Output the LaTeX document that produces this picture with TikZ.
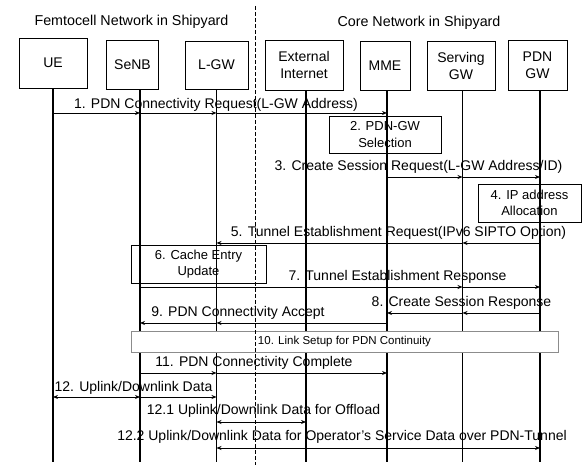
\documentclass[tikz,border=0pt]{standalone}
\usepackage{fontspec}
\setmainfont{Liberation Sans}
\usetikzlibrary{arrows.meta}
\begin{document}
\begin{tikzpicture}[x=1pt,y=-1pt,
  actor/.style={draw,line width=0.9pt,align=center,inner sep=0pt,
    font=\fontsize{14}{17}\selectfont},
  lifeline/.style={line width=1.7pt},
  tip/.tip={Stealth[length=5pt,width=4pt]},
  msg/.style={line width=0.9pt,-tip},
  msgb/.style={line width=0.9pt,tip-tip},
  lbl/.style={font=\fontsize{14}{16}\selectfont,anchor=base,inner sep=0pt},
  head/.style={font=\fontsize{14.3}{16}\selectfont,anchor=base,inner sep=0pt},
  procbox/.style={draw,line width=0.9pt,align=center,inner sep=0pt,
    font=\fontsize{13}{16.6}\selectfont},
  linkbox/.style={draw=black!45,line width=0.8pt,fill=white,inner sep=0pt,
    font=\fontsize{11.5}{14}\selectfont},
  divider/.style={dashed,line width=0.8pt,dash pattern=on 4pt off 2pt}]
\useasboundingbox (0,0) rectangle (582,465);

% headers
\node[head] (hfemto) at (131.5,26) {Femtocell Network in Shipyard};
\node[head] (hcore) at (419,26.5) {Core Network in Shipyard};

% actors
\node[actor,minimum width=68pt,minimum height=50pt] (ue) at (53,63) {UE};
\node[actor,minimum width=51.5pt,minimum height=49pt] (senb) at (132.5,64.5) {SeNB};
\node[actor,minimum width=63pt,minimum height=48pt] (lgw) at (216.5,65) {L-GW};
\node[actor,minimum width=78pt,minimum height=50pt] (ext) at (304,65) {External\\Internet};
\node[actor,minimum width=50pt,minimum height=49pt] (mme) at (385,65.5) {MME};
\node[actor,minimum width=68pt,minimum height=49pt] (sgw) at (461,65.5) {Serving\\GW};
\node[actor,minimum width=59pt,minimum height=50pt] (pgw) at (537.5,65) {PDN\\GW};

% lifeline x positions
\coordinate (UEl) at (53,0);
\coordinate (SeNBl) at (140,0);
\coordinate (LGWl) at (216.5,0);
\coordinate (EXTl) at (306,0);
\coordinate (MMEl) at (387,0);
\coordinate (SGWl) at (462.5,0);
\coordinate (PGWl) at (540,0);
\coordinate (bot) at (0,462);

% message rows
\coordinate (r1) at (0,113);
\coordinate (r3) at (0,177);
\coordinate (r5) at (0,243);
\coordinate (r7) at (0,287);
\coordinate (r8) at (0,313);
\coordinate (r9) at (0,323);
\coordinate (r11) at (0,373);
\coordinate (r12) at (0,397);
\coordinate (r121) at (0,422);
\coordinate (r122) at (0,448);

% lifelines
\draw[lifeline] (UEl |- ue.south) -- (UEl |- bot);
\draw[lifeline] (SeNBl |- senb.south) -- (SeNBl |- bot);
\draw[lifeline] (LGWl |- lgw.south) -- (LGWl |- bot);
\draw[lifeline] (EXTl |- ext.south) -- (EXTl |- bot);
\draw[lifeline] (MMEl |- mme.south) -- (MMEl |- bot);
\draw[lifeline] (SGWl |- sgw.south) -- (SGWl |- bot);
\draw[lifeline] (PGWl |- pgw.south) -- (PGWl |- bot);

% 1
\draw[msg] (UEl |- r1) -- (SeNBl |- r1);
\draw[msg] (SeNBl |- r1) -- (LGWl |- r1);
\draw[msg] (LGWl |- r1) -- (MMEl |- r1);
\node[lbl] (t1) at (216,109) {1. PDN Connectivity Request(L-GW Address)};

% 2
\node[procbox,minimum width=112pt,minimum height=37pt] (b2) at (385,134.5) {2. PDN-GW\\Selection};

% 3
\draw[msg] (MMEl |- r3) -- (SGWl |- r3);
\draw[msg] (SGWl |- r3) -- (PGWl |- r3);
\node[lbl] (t3) at (418.5,170.5) {3. Create Session Request(L-GW Address/ID)};

% 4
\node[procbox,minimum width=103pt,minimum height=38pt] (b4) at (529.5,203) {4. IP address\\Allocation};

% 5
\draw[msg] (PGWl |- r5) -- (SGWl |- r5);
\draw[msg] (SGWl |- r5) -- (LGWl |- r5);
\node[lbl] (t5) at (398.5,236.7) {5. Tunnel Establishment Request(IPv6 SIPTO Option)};

% 6
\node[procbox,minimum width=135pt,minimum height=38pt] (b6) at (198.5,264) {6. Cache Entry\\Update};

% 7
\draw[msg] (SeNBl |- r7) -- (SGWl |- r7);
\draw[msg] (SGWl |- r7) -- (PGWl |- r7);
\node[lbl] (t7) at (397.5,280.7) {7. Tunnel Establishment Response};

% 8
\draw[msg] (PGWl |- r8) -- (SGWl |- r8);
\draw[msg] (SGWl |- r8) -- (MMEl |- r8);
\node[lbl] (t8) at (461.5,306.7) {8. Create Session Response};

% 9
\draw[msg] (MMEl |- r9) -- (LGWl |- r9);
\draw[msg] (LGWl |- r9) -- (SeNBl |- r9);
\node[lbl] (t9) at (238,316.7) {9. PDN Connectivity Accept};

% 10
\node[linkbox,minimum width=427pt,minimum height=21pt] (b10) at (344.5,341.5) {10. Link Setup for PDN Continuity};

% divider (drawn over box 10)
\coordinate (dtop) at (255,6);
\coordinate (dbot) at (255,465);
\draw[divider] (dtop) -- (dbot);

% 11
\draw[msg] (SeNBl |- r11) -- (LGWl |- r11);
\draw[msg] (LGWl |- r11) -- (MMEl |- r11);
\node[lbl] (t11) at (254,366.7) {11. PDN Connectivity Complete};

% 12
\draw[msgb] (UEl |- r12) -- (SeNBl |- r12);
\draw[msg] (SeNBl |- r12) -- (LGWl |- r12);
\node[lbl] (t12) at (133.5,391.7) {12. Uplink/Downlink Data};

% 12.1
\draw[msgb] (LGWl |- r121) -- (EXTl |- r121);
\node[lbl] (t121) at (263.5,415) {12.1 Uplink/Downlink Data for Offload};

% 12.2
\draw[msgb] (LGWl |- r122) -- (PGWl |- r122);
\node[lbl] (t122) at (342,440.7) {12.2 Uplink/Downlink Data for Operator’s Service Data over PDN-Tunnel};
\end{tikzpicture}
\end{document}
